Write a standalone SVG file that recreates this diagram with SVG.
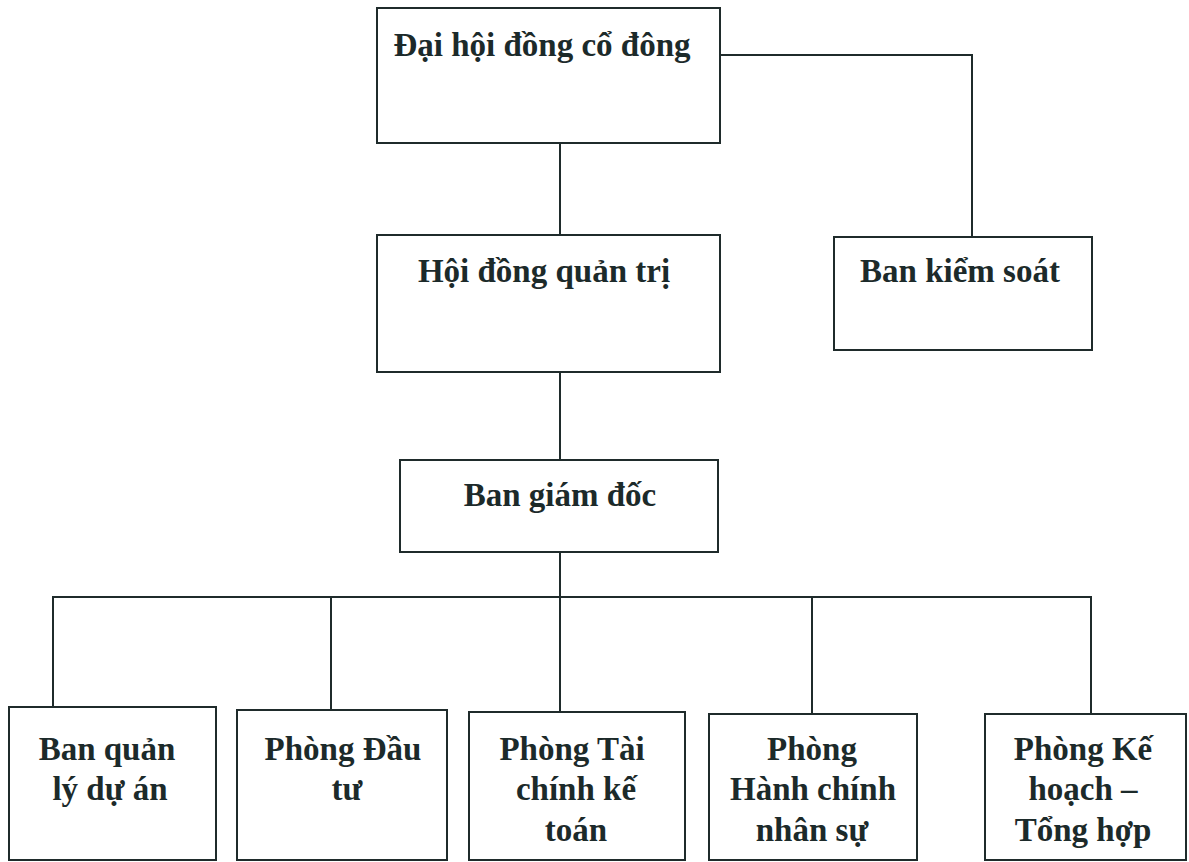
<svg xmlns="http://www.w3.org/2000/svg" width="1189" height="862" viewBox="0 0 1189 862">
<style>
.box{fill:#fff;stroke:#1f2b2b;stroke-width:2}
.ln{fill:none;stroke:#1f2b2b;stroke-width:2}
text{font-family:"Liberation Serif","Times New Roman",serif;font-weight:bold;font-size:33px;fill:#1c2a2a;text-anchor:middle}
</style>
<rect width="1189" height="862" fill="#fff"/>
<g id="connectors">
<polyline class="ln" points="720,55 972,55 972,237"/>
<line class="ln" x1="560" y1="143" x2="560" y2="235"/>
<line class="ln" x1="560" y1="372" x2="560" y2="460"/>
<line class="ln" x1="560" y1="552" x2="560" y2="712"/>
<polyline class="ln" points="53,707 53,597 1091,597 1091,714"/>
<line class="ln" x1="331" y1="597" x2="331" y2="710"/>
<line class="ln" x1="812" y1="597" x2="812" y2="714"/>
</g>
<g id="n1"><rect class="box" x="377" y="8" width="343" height="135"/><text x="542" y="56">Đại hội đồng cổ đông</text></g>
<g id="n2"><rect class="box" x="377" y="235" width="343" height="137"/><text x="544" y="282">Hội đồng quản trị</text></g>
<g id="n3"><rect class="box" x="834" y="237" width="258" height="113"/><text x="960" y="282">Ban kiểm soát</text></g>
<g id="n4"><rect class="box" x="400" y="460" width="318" height="92"/><text x="560" y="506">Ban giám đốc</text></g>
<g id="n5"><rect class="box" x="9" y="707" width="207" height="153"/><text x="107" y="760">Ban quản</text><text x="110" y="800">lý dự án</text></g>
<g id="n6"><rect class="box" x="237" y="710" width="210" height="150"/><text x="343" y="760">Phòng Đầu</text><text x="347" y="800">tư</text></g>
<g id="n7"><rect class="box" x="469" y="712" width="216" height="148"/><text x="572" y="760">Phòng Tài</text><text x="576" y="800">chính kế</text><text x="576" y="841">toán</text></g>
<g id="n8"><rect class="box" x="709" y="714" width="208" height="146"/><text x="812" y="760">Phòng</text><text x="813" y="800">Hành chính</text><text x="812" y="841">nhân sự</text></g>
<g id="n9"><rect class="box" x="985" y="714" width="201" height="146"/><text x="1083" y="760">Phòng Kế</text><text x="1083" y="800">hoạch –</text><text x="1083" y="841">Tổng hợp</text></g>
</svg>
